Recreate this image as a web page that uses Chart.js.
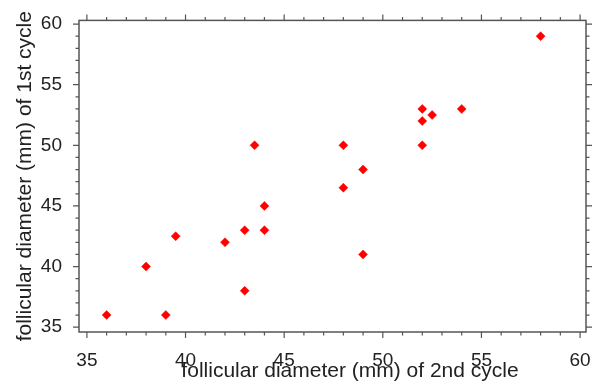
<!DOCTYPE html>
<html>
<head>
<meta charset="utf-8">
<script src="https://cdn.jsdelivr.net/npm/chart.js@4"></script>
<style>
  body { margin: 0; background: #fff; }
</style>
</head>
<body>
<canvas id="chart" width="600" height="384"></canvas>
<script>
// follicular diameters (mm), one pair per patient
const secondCycle = [36, 38, 39, 39.5, 42, 43, 43, 43.5, 44, 44, 48, 48, 49, 49, 52, 52, 52, 52.5, 54, 58];
const firstCycle  = [36, 40, 36, 42.5, 42, 43, 38, 50, 45, 43, 50, 46.5, 48, 41, 53, 52, 50, 52.5, 53, 59];
const xTickValues = [35, 40, 45, 50, 55, 60];
const yTickValues = [35, 40, 45, 50, 55, 60];

const points = secondCycle.map((x, i) => ({x: x, y: firstCycle[i]}));

// frame on all four sides with major/minor ticks pointing outward
const frameTicks = {
    id: 'frameTicks',
    afterDraw(chart) {
        const ctx = chart.ctx;
        const a = chart.chartArea;
        const xs = chart.scales.x, ys = chart.scales.y;
        ctx.save();
        ctx.strokeStyle = '#555';
        ctx.lineWidth = 1.5;
        ctx.strokeRect(a.left, a.top, a.right - a.left, a.bottom - a.top);
        ctx.lineWidth = 1.2;
        ctx.beginPath();
        for (let v = Math.ceil(xs.min); v <= Math.floor(xs.max); v++) {
            const px = xs.getPixelForValue(v);
            const len = v % 5 === 0 ? 6 : 3.5;
            ctx.moveTo(px, a.bottom); ctx.lineTo(px, a.bottom + len);
            ctx.moveTo(px, a.top); ctx.lineTo(px, a.top - len);
        }
        for (let v = Math.ceil(ys.min); v <= Math.floor(ys.max); v++) {
            const py = ys.getPixelForValue(v);
            const len = v % 5 === 0 ? 6 : 3.5;
            ctx.moveTo(a.left, py); ctx.lineTo(a.left - len, py);
            ctx.moveTo(a.right, py); ctx.lineTo(a.right + len, py);
        }
        ctx.stroke();
        ctx.restore();
    }
};

const family = "'Liberation Sans', Arial, sans-serif";
const tickFont = {family: family, size: 19};
const titleFont = {family: family, size: 21};

new Chart(document.getElementById('chart').getContext('2d'), {
    type: 'scatter',
    data: {
        datasets: [{
            data: points,
            pointStyle: 'rectRot',
            pointRadius: 4.5,
            pointBackgroundColor: '#ff0000',
            pointBorderColor: '#ff0000',
            pointBorderWidth: 0.5
        }]
    },
    options: {
        responsive: false,
        animation: false,
        devicePixelRatio: 1,
        layout: {padding: {left: 0, top: 20, right: 14, bottom: 0}},
        plugins: {legend: {display: false}, tooltip: {enabled: false}},
        scales: {
            x: {
                type: 'linear',
                min: 34.6,
                max: 60.3,
                afterBuildTicks: s => { s.ticks = xTickValues.map(v => ({value: v})); },
                afterFit: s => { s.height = 52; },
                grid: {display: false},
                border: {display: false},
                ticks: {font: tickFont, color: '#222', padding: 9, maxRotation: 0},
                // leading spaces nudge the centred title right, as in the original
                title: {display: true, text: '      follicular diameter (mm) of 2nd cycle',
                        font: titleFont, color: '#222', padding: {top: 0, bottom: 0}}
            },
            y: {
                type: 'linear',
                min: 34.6,
                max: 60.3,
                afterBuildTicks: s => { s.ticks = yTickValues.map(v => ({value: v})); },
                afterFit: s => { s.width = 79; },
                grid: {display: false},
                border: {display: false},
                ticks: {font: tickFont, color: '#222', padding: 9},
                title: {display: true, text: 'follicular diameter (mm) of 1st cycle',
                        font: titleFont, color: '#222', padding: {top: 13, bottom: 0}}
            }
        }
    },
    plugins: [frameTicks]
});
</script>
</body>
</html>
